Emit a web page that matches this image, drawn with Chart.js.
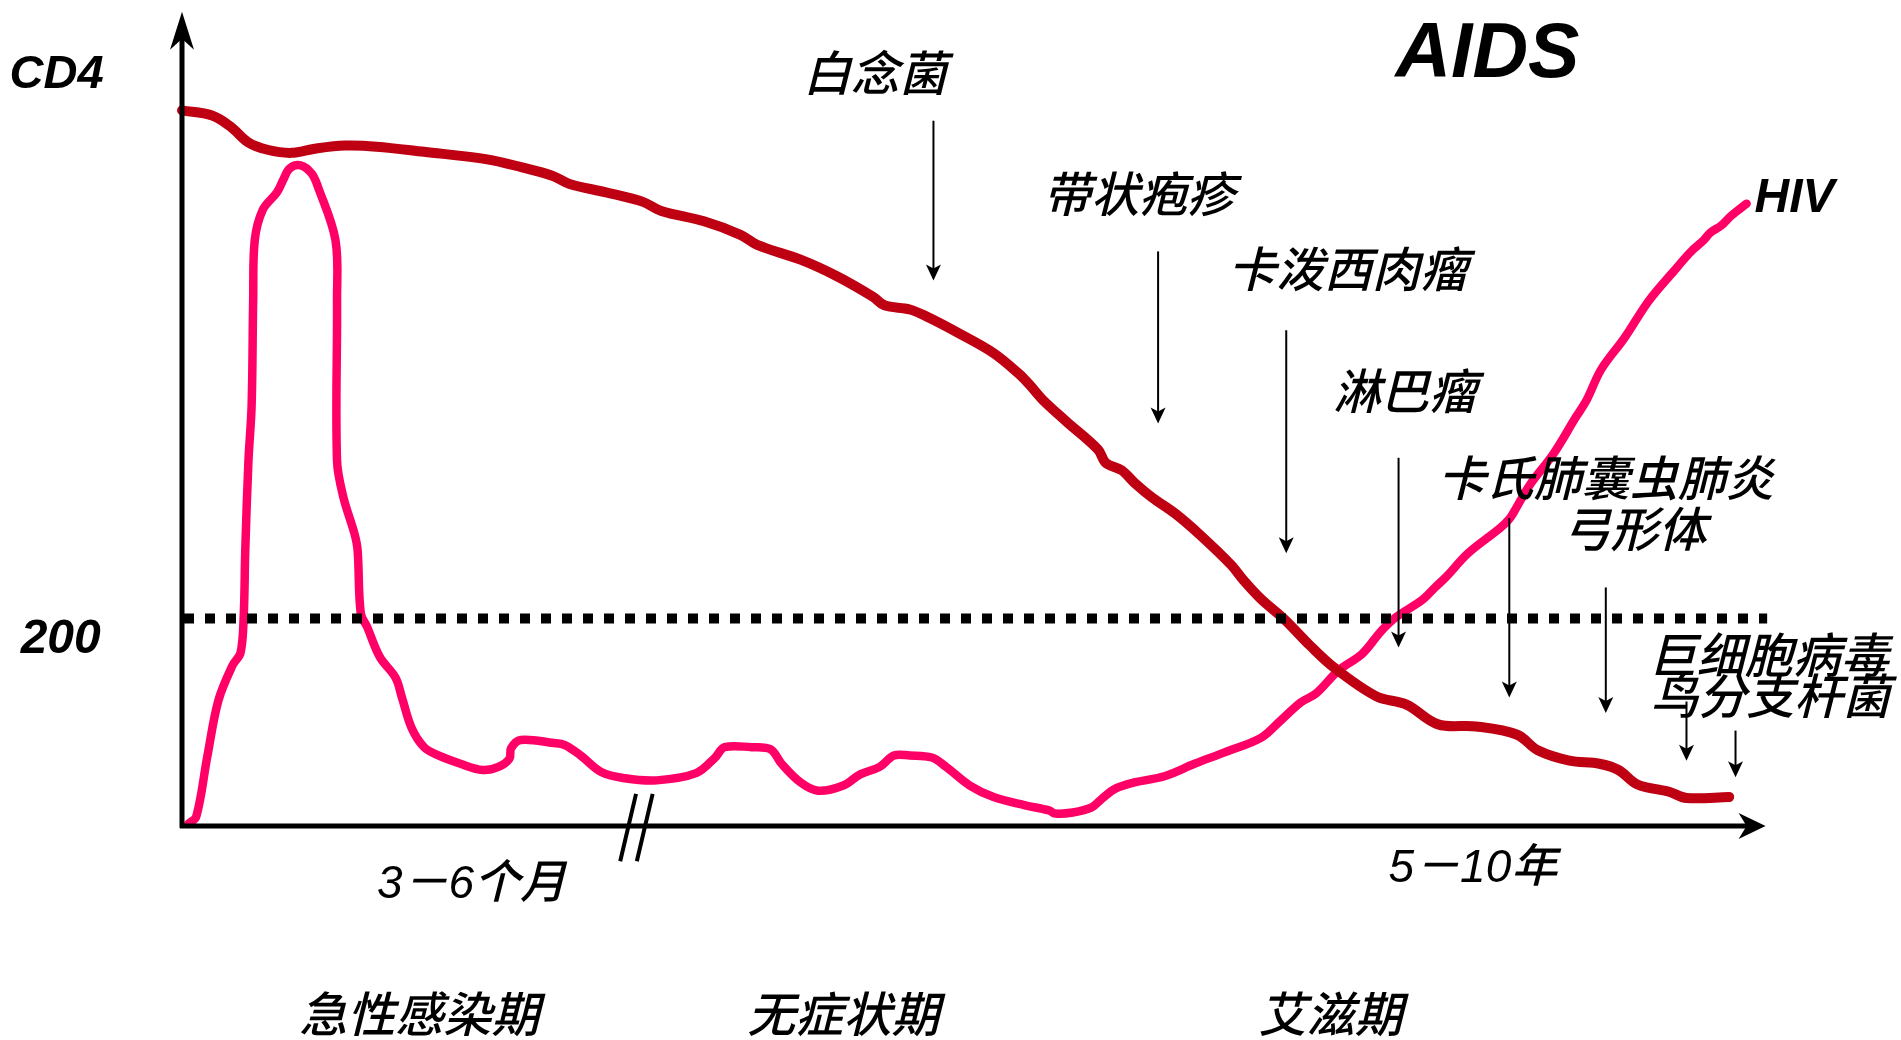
<!DOCTYPE html>
<html lang="zh">
<head>
<meta charset="utf-8">
<title>HIV感染自然病程</title>
<script src="https://cdn.jsdelivr.net/npm/chart.js@4"></script>
<style>
  html, body { margin: 0; padding: 0; background: #fff; overflow: hidden; }
  #wrap { width: 1901px; height: 1040px; }
</style>
</head>
<body>
<div id="wrap"><canvas id="courseChart" width="1901" height="1040"></canvas></div>
<script>
// time runs 0..100 (course units, axis broken after the acute phase)
// y is in CD4 units, the dotted line sits at 200
const cd4Time = [0, 1.9, 3.1, 4.2, 5.4, 6.9, 8.4, 10.3, 12.3, 15.3, 19.2, 21.5, 23.4, 24.5, 26.8, 29.1,
  30.3, 33.0, 35.3, 36.4, 39.1, 41.4, 43.7, 44.4, 46.0, 47.1, 49.0, 51.3, 52.9, 53.6, 54.4, 55.9,
  57.9, 58.4, 59.4, 60.2, 61.3, 62.8, 64.4, 66.3, 67.1, 68.2, 69.7, 71.3, 72.8, 75.5, 77.4, 79.4,
  81.8, 84.4, 85.7, 87.7, 89.6, 90.8, 92.0, 94.0, 95.1, 97.8];
const cd4Count = [690, 685, 674, 659, 652, 649, 653, 656, 655, 650, 643, 635, 627, 619, 611, 602,
  593, 583, 570, 560, 546, 530, 510, 502, 498, 491, 476, 456, 436, 425, 411, 390,
  363, 350, 343, 331, 317, 301, 280, 252, 237, 219, 199, 174, 153, 125, 117, 98,
  96, 88, 73, 63, 60, 54, 40, 33, 27, 28];

const hivTime = [0.4, 0.9, 1.6, 2.3, 3.2, 3.7, 3.9, 4.0, 4.2, 4.4, 4.5, 4.6, 5.1, 6.0, 6.4, 6.8,
  7.5, 8.2, 8.6, 9.7, 9.8, 9.8, 10.2, 10.9, 11.1, 11.3, 11.7, 12.5, 13.5, 13.9, 14.5, 15.3,
  16.2, 17.6, 19.0, 20.0, 20.7, 20.8, 21.4, 23.5, 24.2, 25.2, 26.5, 28.0, 30.0, 32.5, 33.7, 34.3,
  36.0, 37.2, 37.9, 39.1, 40.2, 41.8, 42.9, 44.1, 45.0, 46.0, 47.4, 48.3, 49.8, 51.3, 53.3, 54.8,
  55.2, 56.3, 57.5, 58.2, 59.0, 60.2, 62.1, 64.0, 65.9, 68.2, 69.4, 70.7, 71.7, 73.1, 74.6, 75.8,
  76.7, 78.4, 79.2, 79.9, 81.3, 83.3, 83.9, 84.2, 85.2, 86.7, 88.1, 88.8, 89.7, 91.2, 92.7, 94.3,
  95.4, 96.2, 96.6, 97.3, 97.9, 98.9];
const hivLoad = [2, 9, 67, 121, 155, 167, 202, 266, 352, 405, 508, 565, 594, 611, 623, 634,
  637, 629, 616, 565, 507, 352, 317, 282, 266, 205, 192, 163, 143, 124, 95, 76,
  68, 60, 54, 57, 65, 75, 83, 80, 78, 68, 52, 46, 44, 51, 66, 76,
  76, 74, 60, 42, 34, 39, 50, 57, 68, 68, 66, 57, 39, 28, 20, 15,
  12, 13, 18, 27, 36, 42, 48, 60, 71, 85, 101, 119, 128, 150, 166, 188,
  201, 218, 230, 240, 263, 287, 296, 303, 329, 359, 394, 411, 440, 471, 506, 535,
  554, 565, 572, 579, 588, 600];

const infections = ["白念菌", "带状疱疹", "卡泼西肉瘤", "淋巴瘤", "卡氏肺囊虫肺炎", "弓形体", "巨细胞病毒", "鸟分支杆菌"];
const infectionTime = [47.5, 61.7, 69.8, 76.9, 83.9, 90.0, 95.1, 98.2];
const stageNames = ["急性感染期", "无症状期", "艾滋期"];
const durationLabels = ["3－6个月", "5－10年"];
const cd4Threshold = 200;

function zip(xs, ys) {
  return xs.map((x, i) => ({ x: x, y: ys[i] }));
}

// where things go, in data units
const layout = {
  arrowTop: [680, 554, 478, 355, 297, 230, 120, 92],
  arrowTip: [526, 388, 263, 172, 124, 109, 63, 47],
  infectionLabel: [[43.8, 726], [60.5, 610], [73.7, 537], [77.3, 420], [90.0, 336], [91.8, 287], [100.3, 165], [100.4, 126]],
  stageLabel: [[15.0, -181], [41.8, -181], [72.6, -181]],
  durationLabel: [[18.3, -57], [81.6, -42]],
  breakAt: 28.7
};

const cjkFont = "italic 500 48px 'Noto Sans CJK SC', sans-serif";
const latinFont = size => "italic bold " + size + "px 'Liberation Sans', Arial, sans-serif";

const diagramPlugin = {
  id: "diagram",
  afterDatasetsDraw(chart) {
    const ctx = chart.ctx;
    const px = v => chart.scales.x.getPixelForValue(v);
    const py = v => chart.scales.y.getPixelForValue(v);
    const x0 = px(0), y0 = py(0);

    ctx.save();
    ctx.fillStyle = "#000";
    ctx.strokeStyle = "#000";

    // axes
    ctx.lineWidth = 5;
    ctx.beginPath();
    ctx.moveTo(x0, y0 + 2);
    ctx.lineTo(x0, py(775));
    ctx.moveTo(x0 - 2, y0);
    ctx.lineTo(px(99), y0);
    ctx.stroke();

    const yTip = py(785);
    ctx.beginPath();
    ctx.moveTo(x0, yTip);
    ctx.lineTo(x0 - 12, yTip + 38);
    ctx.lineTo(x0, yTip + 27);
    ctx.lineTo(x0 + 12, yTip + 38);
    ctx.closePath();
    ctx.fill();

    const xTip = px(100.1);
    ctx.beginPath();
    ctx.moveTo(xTip, y0);
    ctx.lineTo(xTip - 27, y0 - 13);
    ctx.lineTo(xTip - 19, y0);
    ctx.lineTo(xTip - 27, y0 + 13);
    ctx.closePath();
    ctx.fill();

    // 200 threshold
    ctx.save();
    ctx.lineWidth = 10;
    ctx.setLineDash([10, 11]);
    ctx.beginPath();
    ctx.moveTo(x0 + 2, py(cd4Threshold));
    ctx.lineTo(px(100.2), py(cd4Threshold));
    ctx.stroke();
    ctx.restore();

    // axis break //
    ctx.lineWidth = 4;
    ctx.beginPath();
    [0, 1.05].forEach(dx => {
      ctx.moveTo(px(layout.breakAt + dx), py(31));
      ctx.lineTo(px(layout.breakAt + dx - 1.0), py(-34));
    });
    ctx.stroke();

    // opportunistic infection arrows
    ctx.lineWidth = 2;
    infectionTime.forEach((t, i) => {
      const ax = px(t), top = py(layout.arrowTop[i]), tip = py(layout.arrowTip[i]);
      ctx.beginPath();
      ctx.moveTo(ax, top);
      ctx.lineTo(ax, tip - 10);
      ctx.stroke();
      ctx.beginPath();
      ctx.moveTo(ax, tip);
      ctx.lineTo(ax - 7.5, tip - 16);
      ctx.lineTo(ax, tip - 12);
      ctx.lineTo(ax + 7.5, tip - 16);
      ctx.closePath();
      ctx.fill();
    });

    // texts
    ctx.textAlign = "center";
    ctx.textBaseline = "middle";
    ctx.font = cjkFont;
    infections.forEach((name, i) => {
      const p = layout.infectionLabel[i];
      ctx.fillText(name, px(p[0]), py(p[1]));
    });
    stageNames.forEach((name, i) => {
      const p = layout.stageLabel[i];
      ctx.fillText(name, px(p[0]), py(p[1]));
    });
    ctx.font = "italic 500 46px 'Liberation Sans Narrow', 'Liberation Sans', 'Noto Sans CJK SC', sans-serif";
    durationLabels.forEach((name, i) => {
      const p = layout.durationLabel[i];
      ctx.fillText(name, px(p[0]), py(p[1]));
    });

    ctx.textAlign = "left";
    ctx.textBaseline = "alphabetic";
    ctx.font = latinFont(47);
    ctx.fillText("CD4", px(-10.9), py(712));
    ctx.font = latinFont(48);
    ctx.fillText(String(cd4Threshold), px(-10.2), py(167));
    ctx.fillText("HIV", px(99.4), py(592));
    ctx.font = latinFont(77);
    ctx.fillText("AIDS", px(76.7), py(722));

    ctx.restore();
  }
};

const chart = new Chart(document.getElementById("courseChart").getContext("2d"), {
  type: "line",
  data: {
    datasets: [
      {
        label: "CD4",
        data: zip(cd4Time, cd4Count),
        borderColor: "#BE0012",
        borderWidth: 10,
        order: 0
      },
      {
        label: "HIV",
        data: zip(hivTime, hivLoad),
        borderColor: "#FF0066",
        borderWidth: 8.5,
        order: 1
      }
    ]
  },
  options: {
    responsive: false,
    animation: false,
    devicePixelRatio: 1,
    layout: { padding: { left: 182, right: 137, top: 17, bottom: 214 } },
    elements: {
      point: { radius: 0 },
      line: { tension: 0.35, borderCapStyle: "round", borderJoinStyle: "round", fill: false }
    },
    datasets: { line: { clip: false } },
    scales: {
      x: { type: "linear", min: 0, max: 100, display: false },
      y: { type: "linear", min: 0, max: 780, display: false }
    },
    plugins: {
      legend: { display: false },
      tooltip: { enabled: false }
    }
  },
  plugins: [diagramPlugin]
});
</script>
</body>
</html>
